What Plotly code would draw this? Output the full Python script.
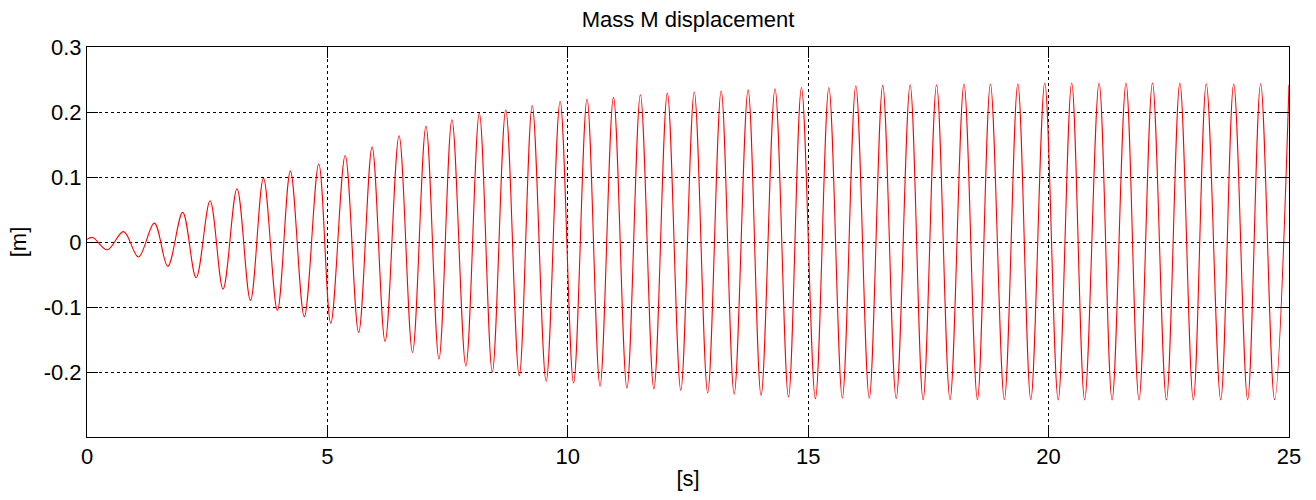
import plotly.graph_objects as go

# Extrema (peaks and troughs) of the mass displacement
t_extrema = [0, 0.12, 0.42, 0.76, 1.07, 1.40, 1.68, 1.99, 2.27, 2.56,
             2.83, 3.12, 3.40, 3.67, 3.96, 4.23, 4.52, 4.82, 5.07, 5.37,
             5.65, 5.93, 6.20, 6.49, 6.77, 7.05, 7.32, 7.59, 7.88, 8.16,
             8.43, 8.71, 8.99, 9.26, 9.55, 9.84, 10.12, 10.40, 10.67, 10.95,
             11.23, 11.51, 11.79, 12.07, 12.35, 12.63, 12.91, 13.19, 13.46, 13.75,
             14.02, 14.31, 14.59, 14.86, 15.15, 15.43, 15.71, 15.99, 16.27, 16.55,
             16.83, 17.12, 17.39, 17.67, 17.95, 18.24, 18.52, 18.79, 19.08, 19.36,
             19.63, 19.92, 20.20, 20.48, 20.75, 21.05, 21.32, 21.61, 21.88, 22.16,
             22.45, 22.73, 23.01, 23.28, 23.58, 23.85, 24.14, 24.41, 24.70, 25.0]

x_extrema = [0.004, 0.007, -0.012, 0.016, -0.023, 0.029, -0.0375, 0.0456, -0.055, 0.0635,
             -0.0724, 0.082, -0.090, 0.098, -0.105, 0.109, -0.115, 0.120, -0.125, 0.133,
             -0.139, 0.146, -0.153, 0.1635, -0.170, 0.178, -0.180, 0.188, -0.191, 0.198,
             -0.200, 0.2035, -0.206, 0.210, -0.2145, 0.2165, -0.217, 0.220, -0.222, 0.2225,
             -0.2247, 0.2266, -0.226, 0.229, -0.2283, 0.2307, -0.2323, 0.2328, -0.234, 0.234,
             -0.236, 0.2358, -0.2385, 0.2378, -0.241, 0.2378, -0.240, 0.2405, -0.240, 0.241,
             -0.241, 0.242, -0.2426, 0.242, -0.2426, 0.243, -0.2426, 0.243, -0.2426, 0.2435,
             -0.2426, 0.2446, -0.243, 0.2446, -0.243, 0.2446, -0.243, 0.2446, -0.243, 0.2446,
             -0.243, 0.2446, -0.243, 0.2435, -0.243, 0.243, -0.2426, 0.2435, -0.2426, 0.242]

x_tickvals = [0, 5, 10, 15, 20, 25]
x_ticktext = ["0", "5", "10", "15", "20", "25"]
y_tickvals = [-0.2, -0.1, 0, 0.1, 0.2, 0.3]
y_ticktext = ["-0.2", "-0.1", "0", "0.1", "0.2", "0.3"]

FONT = "Liberation Sans, Arial, Helvetica, sans-serif"

fig = go.Figure()
fig.add_trace(go.Scatter(
    x=t_extrema, y=x_extrema, mode="lines",
    line=dict(color="rgb(255,0,0)", width=1.1, shape="spline", smoothing=1),
    showlegend=False, hoverinfo="x+y",
))

axis_common = dict(
    showline=True, linecolor="black", linewidth=1, mirror="ticks",
    ticks="inside", ticklen=11, tickcolor="black", tickwidth=1,
    showgrid=True, gridcolor="black", gridwidth=1, griddash="3px,3px",
    zeroline=False, automargin=False,
    tickfont=dict(family=FONT, size=22, color="black"),
)

fig.update_xaxes(
    range=[0, 25], tickvals=x_tickvals, ticktext=x_ticktext,
    title=dict(text="[s]", font=dict(family=FONT, size=22, color="black"), standoff=2),
    **axis_common,
)
fig.update_yaxes(
    range=[-0.3, 0.3], tickvals=y_tickvals, ticktext=y_ticktext,
    title=dict(text="[m]", font=dict(family=FONT, size=22, color="black"), standoff=10),
    **axis_common,
)

fig.update_layout(
    width=1316, height=500,
    margin=dict(l=87, r=27, t=47, b=63),
    paper_bgcolor="white", plot_bgcolor="white",
    title=dict(text="Mass M displacement", x=0.5, xref="paper", xanchor="center",
               y=1 - 19 / 500, yref="container", yanchor="middle",
               font=dict(family=FONT, size=22, color="black")),
    font=dict(family=FONT, size=22, color="black"),
)

fig.write_html("out.html", config={"displayModeBar": False},
               post_script="document.body.style.margin='0';")
